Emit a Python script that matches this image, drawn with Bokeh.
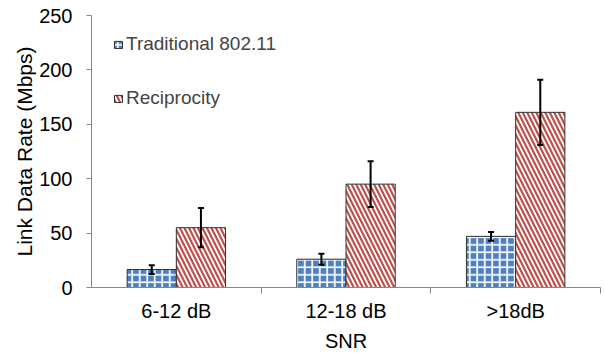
from bokeh.plotting import figure
from bokeh.models import ColumnDataSource, Whisker, FixedTicker, Range1d, Legend, LegendItem
from bokeh.embed import file_html
from bokeh.resources import INLINE

categories = ["6-12 dB", "12-18 dB", ">18dB"]
traditional = [16.5, 26, 47]
traditional_err = [4, 5, 4]
reciprocity = [55, 95, 161]
reciprocity_err = [18, 21, 30]
series_names = ["Traditional 802.11", "Reciprocity"]

FONT = "Liberation Sans"
AXIS = "#868686"

p = figure(frame_width=509, frame_height=272, output_backend="svg", toolbar_location=None,
           x_range=Range1d(0, len(categories)), y_range=Range1d(0, 250),
           min_border_left=91, min_border_right=5, min_border_top=15, min_border_bottom=69)
p.outline_line_color = None
p.grid.grid_line_color = None
p.background_fill_color = "white"
p.border_fill_color = "white"

centers = [i + 0.5 for i in range(len(categories))]
bw = 0.29
src_t = ColumnDataSource(dict(x=[c - bw / 2 for c in centers], top=traditional,
                              upper=[v + e for v, e in zip(traditional, traditional_err)],
                              lower=[v - e for v, e in zip(traditional, traditional_err)]))
src_r = ColumnDataSource(dict(x=[c + bw / 2 for c in centers], top=reciprocity,
                              upper=[v + e for v, e in zip(reciprocity, reciprocity_err)],
                              lower=[v - e for v, e in zip(reciprocity, reciprocity_err)]))

r_t = p.vbar(x="x", top="top", width=bw, source=src_t, fill_color="#4f81bd",
             line_color="#303030", line_width=1, hatch_pattern="+", hatch_color="white",
             hatch_weight=1.7, hatch_scale=7.5)
r_r = p.vbar(x="x", top="top", width=bw, source=src_r, fill_color="white",
             line_color="#303030", line_width=1, hatch_pattern="left_diagonal_line",
             hatch_color="#c0504d", hatch_weight=2.2, hatch_scale=9)

for src in (src_t, src_r):
    w = Whisker(base="x", upper="upper", lower="lower", source=src,
                line_color="black", line_width=2, level="overlay")
    w.upper_head.size = 6
    w.lower_head.size = 6
    w.upper_head.line_width = 2
    w.lower_head.line_width = 2
    p.add_layout(w)

# x axis
p.xaxis.ticker = FixedTicker(ticks=centers, minor_ticks=[1, 2, 3])
p.xaxis.major_label_overrides = {c: lab for c, lab in zip(centers, categories)}
p.xaxis.major_tick_line_color = None
p.xaxis.major_tick_out = 0
p.xaxis.major_tick_in = 0
p.xaxis.minor_tick_line_color = AXIS
p.xaxis.minor_tick_out = 6
p.xaxis.minor_tick_in = 0
p.xaxis.major_label_standoff = 6
p.xaxis.axis_label = "SNR"
p.xaxis.axis_label_standoff = 5

# y axis
p.yaxis.ticker = FixedTicker(ticks=[0, 50, 100, 150, 200, 250])
p.yaxis.minor_tick_line_color = None
p.yaxis.major_tick_out = 5
p.yaxis.major_tick_in = 0
p.yaxis.major_tick_line_color = AXIS
p.yaxis.major_label_standoff = 14
p.yaxis.axis_label = "Link Data Rate (Mbps)"
p.yaxis.axis_label_standoff = 0

for ax in (p.xaxis, p.yaxis):
    ax.axis_line_color = AXIS
    ax.major_label_text_font = FONT
    ax.major_label_text_font_size = "20px"
    ax.major_label_text_color = "black"
    ax.axis_label_text_font = FONT
    ax.axis_label_text_font_size = "20px"
    ax.axis_label_text_font_style = "normal"
    ax.axis_label_text_color = "black"
p.yaxis.axis_label_text_font_size = "21px"

legend = Legend(items=[LegendItem(label=series_names[0], renderers=[r_t]),
                       LegendItem(label=series_names[1], renderers=[r_r])],
                location=(22, 178), margin=0, padding=0, spacing=32,
                glyph_width=10, glyph_height=9, label_height=22, label_standoff=3,
                label_text_font=FONT, label_text_font_size="19px",
                border_line_color=None, background_fill_alpha=0)
p.add_layout(legend)

open("out.html", "w").write(file_html(p, INLINE))
